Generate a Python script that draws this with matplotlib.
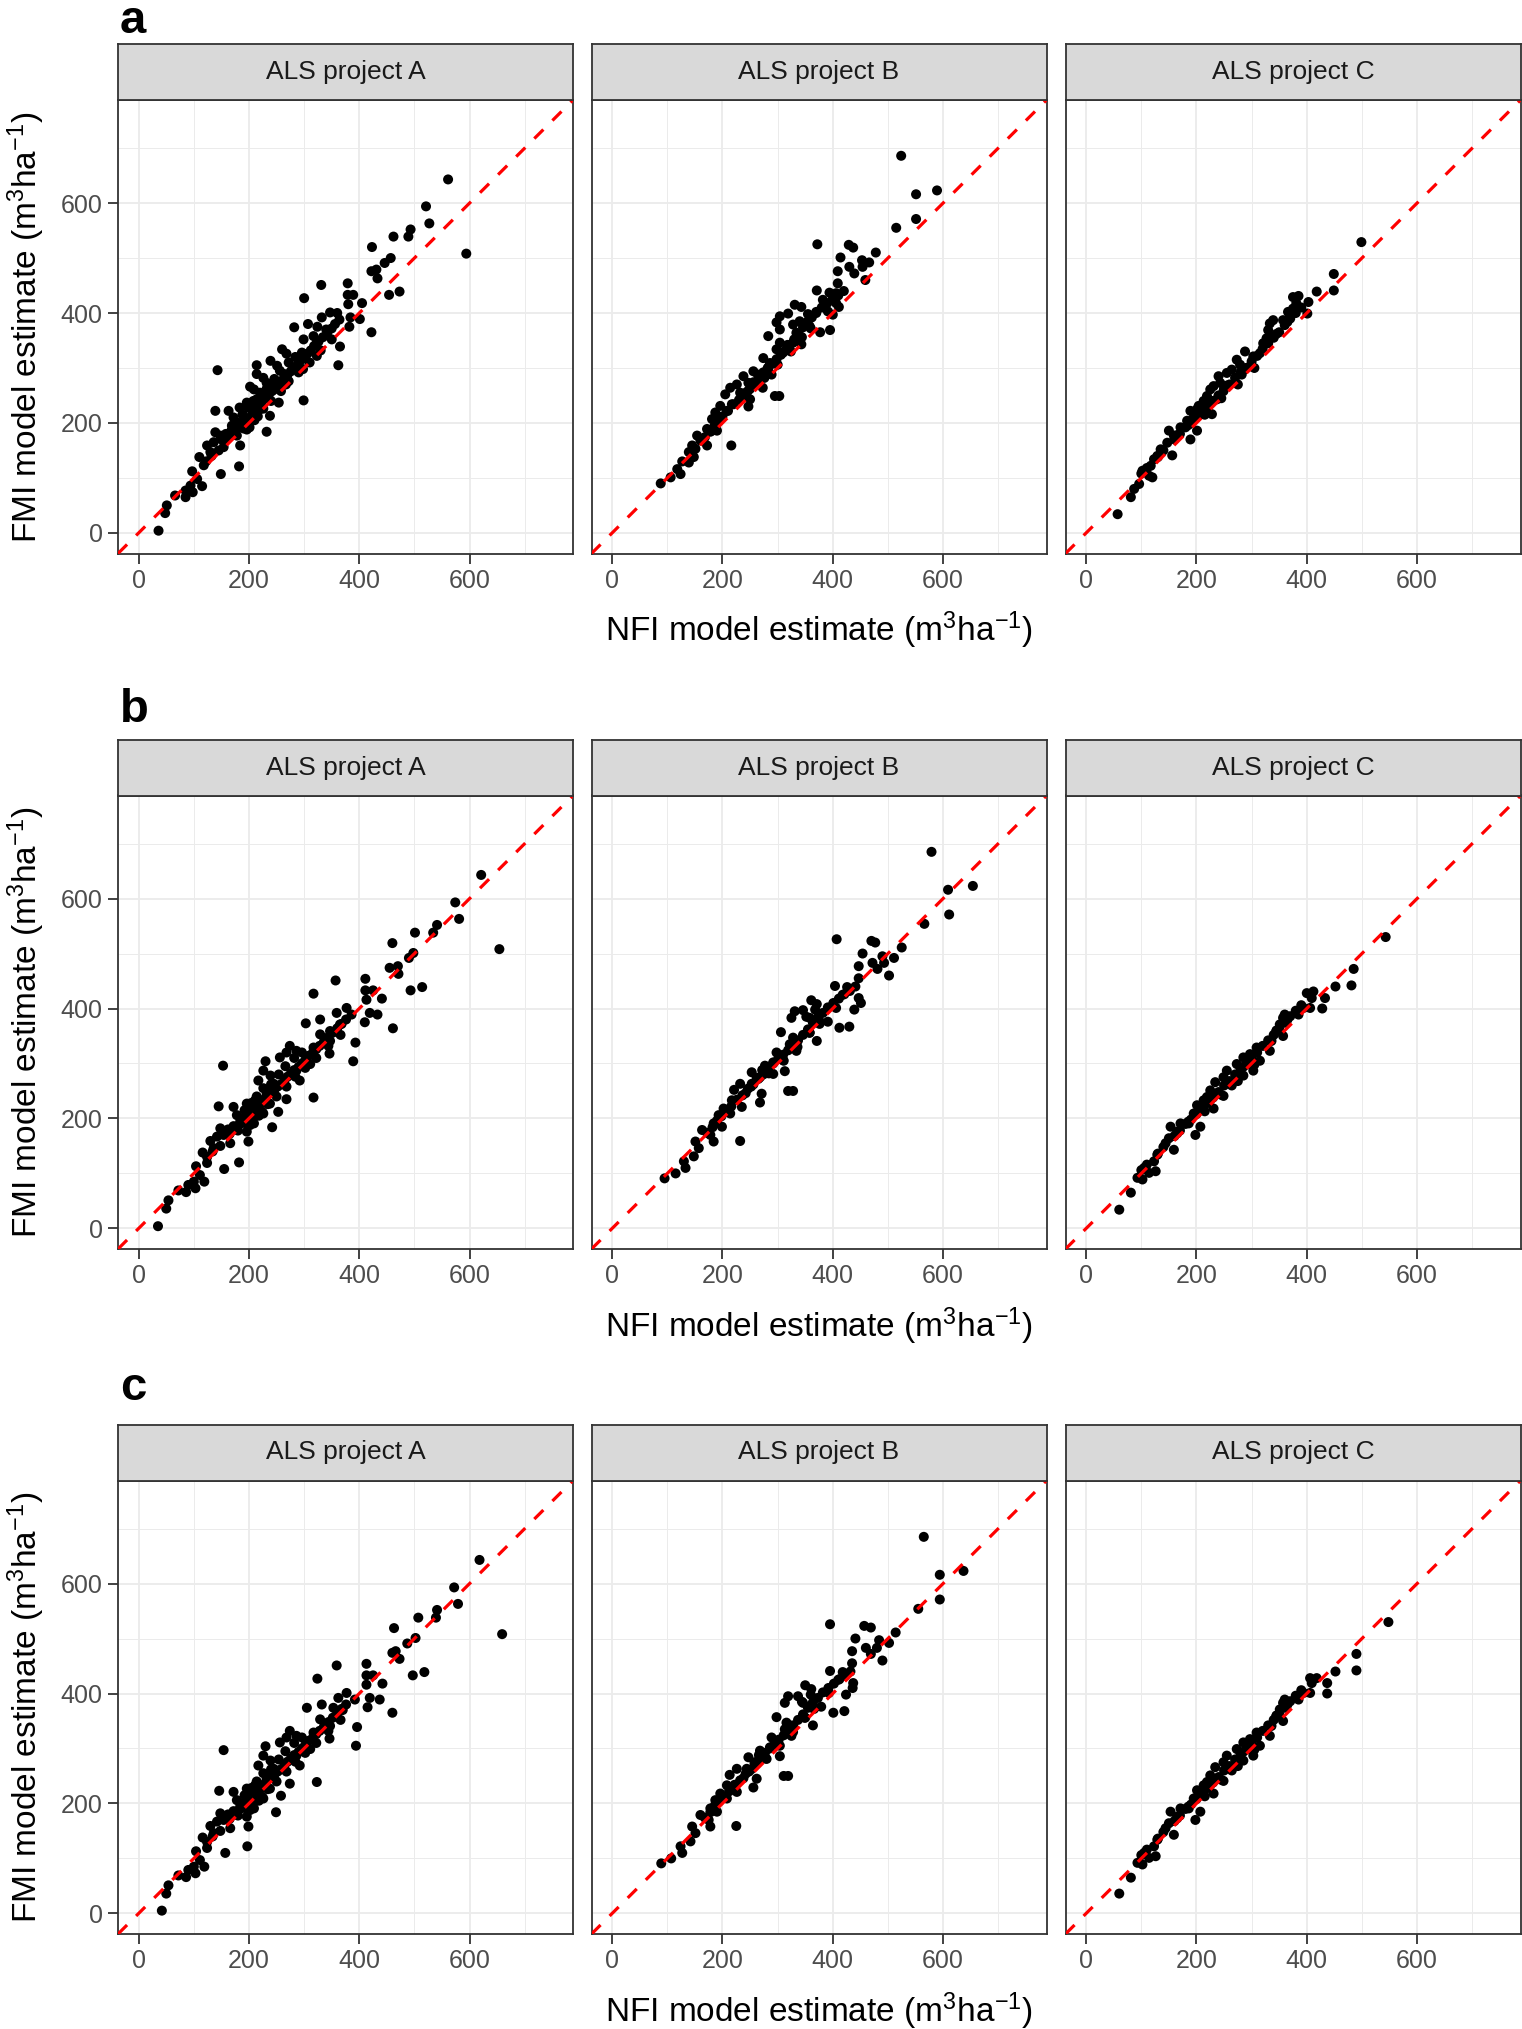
import numpy as np
import matplotlib
matplotlib.use('Agg')
import matplotlib.pyplot as plt
from matplotlib.ticker import MultipleLocator

plt.rcParams['font.family'] = ['Liberation Sans', 'DejaVu Sans']
plt.rcParams['mathtext.default'] = 'regular'

# ---- data: (NFI estimate, FMI estimate) ----
projects = ['ALS project A', 'ALS project B', 'ALS project C']
row_letters = ['a', 'b', 'c']

a_A = [(561,643),(521,594),(527,563),(594,508),(493,552),(489,539),(462,539),(423,520),(457,500),(446,491),(431,479),(422,476),(433,463),(454,433),(473,439),
       (331,451),(379,454),(379,433),(389,433),(380,416),(405,418),(401,389),(384,392),(382,375),(422,365),
       (300,427),(282,374),(307,380),(332,392),(347,401),(360,400),(364,388),(324,375),(340,370),(317,358),(365,339),(362,305),
       (299,352),(323,346),(323,322),(296,328),(287,301),(298,298),(260,334),(268,326),(239,313),(251,304),(214,305),(264,289),(214,289),(226,282),(232,273),(202,266),
       (143,296),(209,261),(244,267),(254,237),(267,270),(299,241),(196,237),(214,243),(220,225),(238,213),(232,184),
       (139,222),(163,222),(183,228),(190,213),(208,207),(172,210),(169,195),(201,192),(178,177),(184,159),
       (139,183),(148,177),(136,165),(154,156),(124,159),(130,147),(110,138),(118,123),(97,112),(149,107),(182,121),
       (106,98),(115,85),(94,86),(85,77),(98,74),(85,65),(66,68),(51,50),(48,36),(36,4),
       (160,172),(170,182),(178,190),(186,198),(194,206),(200,200),(206,216),(212,226),(218,234),(224,240),(230,248),(236,252),(242,258),(248,262),
       (252,268),(258,276),(264,282),(270,288),(276,294),(282,300),(288,306),(294,314),(300,320),(306,326),(312,332),(318,340),(326,348),(334,356),
       (342,364),(350,372),(356,380),(188,215),(198,228),(208,240),(220,255),(232,262),(246,280),(256,295),(272,310),(284,320),(180,200),(168,186),
       (158,180),(150,170),(190,190),(210,205),(226,226),(240,240),(258,258),(272,276),(290,292),(310,310),(330,332),(350,352),(145,150),(132,140),
       (122,130),(176,178),(196,188),(216,212)]

a_B = [(524,686),(551,616),(589,623),(551,571),(515,555),(372,525),(429,524),(437,519),(414,501),(478,510),(409,476),(430,484),(439,472),(453,496),(466,492),(454,484),(459,460),
       (371,441),(394,437),(382,424),(409,454),(406,436),(406,418),(411,411),(391,403),(400,397),(370,400),(377,365),(395,369),
       (331,415),(343,411),(304,394),(319,399),(298,383),(304,370),(328,379),(334,364),(343,343),(358,376),(328,346),
       (283,358),(304,346),(298,334),(310,328),(274,318),(286,309),(289,288),(256,294),(268,285),(238,285),(247,273),(226,270),(214,264),(205,252),(232,255),(250,243),(247,230),(273,264),(295,249),(303,249),
       (217,234),(196,231),(208,222),(187,219),(181,207),(190,201),(181,186),(172,189),(190,186),(154,177),(160,168),(145,159),(172,159),(151,153),(139,147),(148,138),(127,130),(139,128),(118,116),(124,107),(106,101),(88,90),(216,159),
       (200,212),(210,222),(220,234),(230,242),(240,254),(250,262),(258,272),(266,280),(274,292),(282,300),(290,308),(298,316),(306,324),(314,332),(322,342),(330,352),(338,362),(346,374),(354,384),(362,392),(370,402),(380,410),(390,418),(400,426),(410,432),(420,440),
       (178,184),(168,174),(186,196),(194,204),(256,274),(264,288),(284,302),(318,342),(236,246),(246,258),(276,282),(300,306),(324,330),(344,356),(360,372),(340,385),(355,398)]

a_C = [(499,529),(449,471),(449,441),(418,439),(403,420),(401,399),(375,429),(385,431),(381,418),(366,402),(375,408),(357,387),(339,387),(333,381),(330,369),(327,354),(321,345),(333,357),
       (315,327),(303,321),(297,303),(288,330),(273,315),(279,306),(264,297),(255,291),(282,288),(240,285),(243,273),(249,258),(231,267),(225,261),(219,249),(213,240),(237,243),
       (204,231),(201,225),(207,216),(228,216),(189,222),(195,210),(183,204),(201,186),(189,170),(171,192),(150,186),(159,177),(147,164),(156,141),(135,152),(129,140),(123,134),
       (117,122),(102,113),(114,104),(120,101),(96,89),(87,80),(81,65),(57,34),
       (160,170),(170,180),(180,192),(190,200),(200,210),(210,222),(220,230),(230,240),(240,250),(250,262),(260,270),(270,282),(280,292),(290,300),(300,312),(310,322),(320,335),
       (330,345),(340,355),(350,365),(360,378),(370,390),(380,400),(390,410),(140,150),(130,138),(110,118),(100,108),(215,215),(245,245),(275,270),(305,300),(165,178),(185,196),
       (205,218),(225,236),(255,268),(285,296),(345,362),(365,384)]

b_A = [(621,643),(574,593),(581,563),(654,508),(541,552),(534,538),(501,538),(460,519),(498,501),(490,492),(470,477),(455,474),(471,463),(493,433),(514,439),
       (357,451),(411,454),(411,433),(425,433),(413,416),(441,418),(433,389),(419,392),(410,375),(461,364),
       (317,427),(303,373),(329,380),(377,401),(386,389),(359,392),(365,371),(347,359),(393,338),(389,304),
       (329,353),(347,341),(317,329),(346,318),(311,299),(286,323),(274,332),(268,320),(256,311),(230,304),(286,287),(292,269),(226,287),(239,278),(217,269),
       (153,296),(245,263),(268,235),(317,238),(211,233),(232,245),(238,227),(253,212),(242,184),
       (145,222),(172,221),(196,227),(202,212),(226,209),(178,206),(184,194),(209,191),(196,176),(199,158),
       (148,182),(160,173),(142,167),(166,155),(130,159),(136,146),(116,138),(124,119),(104,113),(155,108),(182,120),
       (111,97),(119,85),(100,85),(90,79),(103,73),(86,66),(72,69),(54,51),(50,36),(35,4),
       (165,172),(175,182),(184,190),(192,198),(200,206),(206,200),(212,216),(220,226),(226,234),(232,240),(240,248),(246,252),(252,258),(258,262),
       (264,268),(270,276),(276,282),(282,288),(290,294),(296,300),(302,306),(308,314),(316,320),(322,326),(328,332),(336,340),(344,348),(352,356),
       (360,364),(368,372),(376,380),(192,215),(204,228),(214,240),(226,255),(240,262),(254,280),(266,295),(282,310),(296,320),(186,200),(172,186),
       (162,180),(154,170),(196,190),(218,205),(234,226),(250,240),(268,258),(284,276),(302,292),(322,310),(344,332),(366,352),(148,150),(134,140),
       (124,130),(180,178),(202,188),(224,212)]

b_B = [(579,685),(609,616),(654,623),(611,571),(566,554),(407,526),(470,523),(477,520),(454,500),(525,511),(447,477),(472,483),(481,472),(490,495),(511,492),(493,483),(502,460),
       (404,441),(426,439),(418,425),(447,455),(447,419),(451,410),(439,398),(406,401),(412,365),(430,367),
       (361,415),(371,408),(331,395),(346,397),(325,383),(358,383),(376,377),(391,376),(371,341),(358,356),
       (306,357),(328,347),(322,335),(334,323),(298,320),(311,305),(313,286),(277,296),(292,281),(253,284),(268,275),(232,263),(221,252),(253,263),(271,245),(268,229),(319,250),(328,250),
       (217,233),(235,221),(202,218),(193,206),(214,209),(199,185),(184,191),(163,179),(178,170),(184,158),(151,158),(157,146),(148,131),(130,122),(133,110),(115,100),(95,91),(232,159),
       (205,212),(216,222),(226,234),(236,242),(246,254),(256,262),(265,272),(274,280),(283,292),(292,300),(301,308),(310,316),(319,324),(328,332),(337,342),(346,352),(355,362),(364,374),(373,384),(382,392),(391,402),(401,410),(411,418),(421,426),(431,432),(441,440),
       (182,184),(172,174),(190,196),(198,204),(262,274),(272,288),(292,302),(330,342),(242,246),(252,258),(284,282),(310,306),(336,330),(358,356),(376,372),(352,385),(368,398)]

b_C = [(543,530),(485,472),(481,442),(452,440),(433,419),(428,400),(400,428),(412,431),(409,419),(394,401),(406,401),(385,389),(357,383),(360,389),(351,371),(345,359),(357,350),(336,341),
       (333,323),(309,329),(315,305),(303,287),(297,317),(285,311),(273,299),(285,278),(255,287),(249,275),(264,260),(234,266),(249,241),(225,251),(219,239),(231,218),(213,233),
       (201,224),(195,209),(207,185),(198,170),(186,191),(171,191),(153,185),(165,173),(150,164),(159,143),(144,155),(129,134),(123,122),(105,110),(126,104),(114,101),(93,92),
       (102,89),(81,65),(60,34),
       (160,168),(170,178),(180,190),(190,198),(200,208),(210,220),(220,228),(230,238),(240,248),(250,260),(260,268),(270,280),(280,290),(290,298),(300,310),(310,320),(320,332),
       (330,342),(340,352),(350,362),(360,374),(370,386),(380,396),(390,406),(140,148),(130,136),(110,116),(100,106),(215,213),(245,243),(275,268),(305,298),(165,176),(185,194),
       (205,216),(225,234),(255,266),(285,294),(345,360),(365,380)]

c_A = [(618,643),(572,593),(579,563),(659,508),(541,552),(539,538),(507,538),(463,519),(502,501),(487,491),(466,477),(460,474),(473,463),(497,433),(518,439),
       (359,451),(413,454),(413,433),(425,433),(413,416),(442,418),(437,389),(419,392),(415,375),(460,365),
       (324,427),(305,374),(332,380),(377,401),(392,389),(362,392),(370,370),(353,374),(396,339),(394,305),
       (329,353),(347,341),(317,329),(346,318),(311,299),(286,323),(274,332),(268,320),(256,311),(230,304),(286,287),(292,269),(226,287),(239,278),(217,269),
       (154,297),(245,263),(274,236),(323,239),(211,233),(232,245),(238,227),(258,214),(249,184),
       (146,223),(172,221),(196,227),(202,212),(226,209),(178,206),(184,194),(209,191),(196,176),(199,158),
       (148,182),(160,173),(142,167),(166,155),(130,159),(136,146),(116,138),(124,119),(104,113),(157,110),(197,122),
       (111,97),(119,85),(100,85),(90,79),(103,73),(86,66),(72,69),(54,51),(50,36),(42,5),
       (165,172),(175,182),(184,190),(192,198),(200,206),(206,200),(212,216),(220,226),(226,234),(232,240),(240,248),(246,252),(252,258),(258,262),
       (264,268),(270,276),(276,282),(282,288),(290,294),(296,300),(302,306),(308,314),(316,320),(322,326),(328,332),(336,340),(344,348),(352,356),
       (360,364),(368,372),(376,380),(192,215),(204,228),(214,240),(226,255),(240,262),(254,280),(266,295),(282,310),(296,320),(186,200),(172,186),
       (162,180),(154,170),(196,190),(218,205),(234,226),(250,240),(268,258),(284,276),(302,292),(322,310),(344,332),(366,352),(148,150),(134,140),
       (124,130),(180,178),(202,188),(224,212)]

c_B = [(565,685),(594,616),(637,623),(594,571),(555,554),(395,526),(457,523),(469,520),(441,500),(514,511),(435,477),(460,483),(469,472),(484,497),(502,492),(480,483),(490,460),
       (395,441),(418,439),(410,425),(435,455),(437,419),(436,410),(424,398),(393,401),(401,365),(421,368),
       (350,415),(361,408),(319,395),(337,395),(313,383),(346,383),(364,374),(379,376),(364,342),(349,356),
       (298,357),(316,347),(313,335),(325,323),(289,320),(304,305),(304,286),(268,296),(280,281),(247,284),(259,275),(226,263),(213,252),(244,263),(262,245),(256,229),(311,250),(319,250),
       (208,233),(226,221),(196,218),(187,206),(208,209),(190,185),(178,191),(160,179),(175,170),(178,158),(145,158),(151,146),(142,131),(124,122),(127,110),(107,100),(89,91),(225,159),
       (202,212),(212,222),(222,234),(232,242),(242,254),(252,262),(260,272),(268,280),(277,292),(286,300),(294,308),(302,316),(311,324),(320,332),(328,342),(337,352),(346,362),(355,374),(364,384),(373,392),(382,402),(392,410),(402,418),(412,426),(422,432),(432,440),
       (178,184),(168,174),(186,196),(194,204),(258,274),(266,288),(286,302),(322,342),(238,246),(248,258),(278,282),(302,306),(328,330),(350,356),(366,372),(344,385),(360,398)]

c_C = [(548,530),(490,472),(490,442),(452,440),(437,419),(437,400),(406,428),(418,428),(409,419),(394,401),(406,401),(385,389),(357,383),(360,389),(351,371),(345,359),(357,350),(336,341),
       (333,323),(309,329),(315,305),(303,287),(297,317),(285,311),(273,299),(285,278),(255,287),(249,275),(264,260),(234,266),(249,241),(225,251),(219,239),(231,218),(213,233),
       (201,224),(195,209),(207,185),(198,170),(186,191),(171,191),(153,185),(165,173),(150,164),(159,143),(144,155),(129,134),(123,122),(105,110),(126,104),(114,101),(93,92),
       (102,89),(81,65),(60,36),
       (160,168),(170,178),(180,190),(190,198),(200,208),(210,220),(220,228),(230,238),(240,248),(250,260),(260,268),(270,280),(280,290),(290,298),(300,310),(310,320),(320,332),
       (330,342),(340,352),(350,362),(360,374),(370,386),(380,396),(390,406),(140,148),(130,136),(110,116),(100,106),(215,213),(245,243),(275,268),(305,298),(165,176),(185,194),
       (205,216),(225,234),(255,266),(285,294),(345,360),(365,380)]

panels = [[a_A, a_B, a_C], [b_A, b_B, b_C], [c_A, c_B, c_C]]

# ---- layout (pixels) ----
W, H = 1522, 2029
col_left = [118, 591.5, 1065.5]
row_top = [100, 795.5, 1480.5]
pw, ph, strip_h = 455, 453.5, 56
lim = (-37.5, 787.5)
letter_base = [33, 722, 1400]
xlabel = r'NFI model estimate (m$^3$ha$^{-1}$)'
ylabel = r'FMI model estimate (m$^3$ha$^{-1}$)'

def rect(x, y, w, h):
    return [x / W, 1 - (y + h) / H, w / W, h / H]

fig = plt.figure(figsize=(W / 100, H / 100), dpi=100)

for r in range(3):
    for c in range(3):
        ax = fig.add_axes(rect(col_left[c], row_top[r], pw, ph))
        pts = np.array(panels[r][c])
        ax.scatter(pts[:, 0], pts[:, 1], s=52, c='black', edgecolors='none', zorder=3)
        ax.plot(lim, lim, color='red', lw=2.3, dashes=(4, 4), zorder=4)
        ax.set_xlim(lim); ax.set_ylim(lim)
        ax.xaxis.set_major_locator(MultipleLocator(200))
        ax.yaxis.set_major_locator(MultipleLocator(200))
        ax.xaxis.set_minor_locator(MultipleLocator(100))
        ax.yaxis.set_minor_locator(MultipleLocator(100))
        ax.grid(which='major', color='#EBEBEB', lw=1.3, zorder=0)
        ax.grid(which='minor', color='#EBEBEB', lw=0.7, zorder=0)
        ax.set_axisbelow(True)
        ax.tick_params(which='minor', length=0)
        ax.tick_params(which='major', length=7, width=1.3, color='#333333',
                       labelsize=18, labelcolor='#4D4D4D', pad=4)
        if c > 0:
            ax.tick_params(axis='y', which='major', length=0, labelleft=False)
        for sp in ax.spines.values():
            sp.set_color('#333333'); sp.set_linewidth(1.3)

        sax = fig.add_axes(rect(col_left[c], row_top[r] - strip_h, pw, strip_h))
        sax.set_facecolor('#D9D9D9')
        sax.set_xticks([]); sax.set_yticks([])
        for sp in sax.spines.values():
            sp.set_color('#333333'); sp.set_linewidth(1.3)
        sax.text(0.5, 0.5, projects[c], ha='center', va='center', fontsize=19,
                 color='#1A1A1A', transform=sax.transAxes)

    # shared axis titles and panel letter
    fig.text((col_left[1] + pw / 2) / W, 1 - (row_top[r] + ph + 77) / H, xlabel,
             ha='center', va='center', fontsize=24)
    fig.text(26 / W, 1 - (row_top[r] + ph / 2) / H, ylabel, rotation=90,
             ha='center', va='center', fontsize=24)
    fig.text(120 / W, 1 - letter_base[r] / H, row_letters[r],
             ha='left', va='baseline', fontsize=34, fontweight='bold')

fig.savefig('out.png', dpi=100)
